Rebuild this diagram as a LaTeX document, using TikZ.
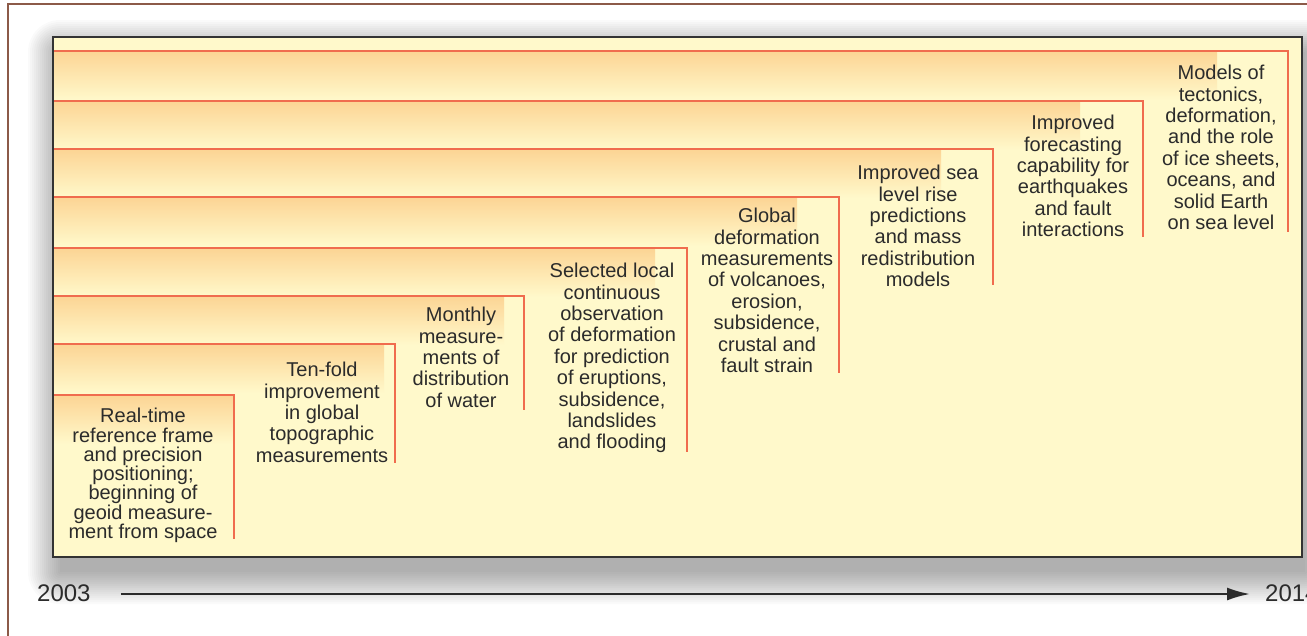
\documentclass[tikz,border=0pt]{standalone}
\usepackage{fontspec}
\setmainfont{Liberation Sans}
\usetikzlibrary{arrows.meta}
\definecolor{frame}{HTML}{8C5A48}
\definecolor{paper}{HTML}{FFF9CB}
\definecolor{band}{HTML}{FCD494}
\definecolor{redline}{HTML}{F06C4E}
\definecolor{ink}{HTML}{2B2B2B}
\begin{document}
\begin{tikzpicture}[x=1pt,y=-1pt,
  label/.style={font=\fontsize{20}{21.4}\selectfont, align=center,
    inner sep=0pt, anchor=north, text=ink},
  year/.style={font=\fontsize{24}{28}\selectfont, inner sep=0pt, text=ink},
  stepline/.style={draw=redline, line width=2pt},
  riser/.style={draw=redline, line width=1.5pt}]
\useasboundingbox (0,0) rectangle (1307,635);
\clip (0,0) rectangle (1307,635);
\fill[white] (0,0) rectangle (1307,635);

% outer frame (left and top edges)
\draw[frame, line width=2.5pt] (8,640) -- (8,4) -- (1320,4);

% soft drop shadow: stacked translucent layers
\foreach \r in {32,30,...,0}
  \fill[black, opacity=0.02, rounded corners=\r pt]
    (60-\r,52-\r) rectangle (1305+\r,572+\r);

% panel
\fill[paper] (53,37) rectangle (1302,557);

% shaded bands under each step
\foreach \y/\xg in {51/1217, 101/1080, 149/941, 197/797, 248/655, 296/504, 344/384, 395/234}
  \shade[top color=band, bottom color=paper] (53,\y) rectangle (\xg,\y+49);

% steps: horizontal line and riser
\foreach \y/\xr/\yb in {51/1288/232, 101/1143/237, 149/993/285, 197/839/373,
                        248/687/452, 296/524/410, 344/395/463, 395/234/539} {
  \draw[stepline] (53,\y) -- (\xr+0.75,\y);
  \draw[riser] (\xr,\y) -- (\xr,\yb);
}

\draw[black!80, line width=1.3pt] (53,37) rectangle (1302,557);

% milestone texts
\node[label, font=\fontsize{20}{19.3}\selectfont] (rt) at (143,408)
  {Real-time\\reference frame\\and precision\\positioning;\\beginning of\\geoid measure-\\ment from space};
\node[label] (tf) at (322,362)
  {Ten-fold\\improvement\\in global\\topographic\\measurements};
\node[label] (mo) at (461,307)
  {Monthly\\measure-\\ments of\\distribution\\of water};
\node[label] (sl) at (612,263)
  {Selected local\\continuous\\observation\\of deformation\\for prediction\\of eruptions,\\subsidence,\\landslides\\and flooding};
\node[label] (gd) at (767,208)
  {Global\\deformation\\measurements\\of volcanoes,\\erosion,\\subsidence,\\crustal and\\fault strain};
\node[label] (sea) at (918,165)
  {Improved sea\\level rise\\predictions\\and mass\\redistribution\\models};
\node[label] (fc) at (1073,115)
  {Improved\\forecasting\\capability for\\earthquakes\\and fault\\interactions};
\node[label] (md) at (1221,65)
  {Models of\\tectonics,\\deformation,\\and the role\\of ice sheets,\\oceans, and\\solid Earth\\on sea level};

% time axis
\node[year, anchor=base west] (y03) at (37,601) {2003};
\node[year, anchor=base west] (y14) at (1265,601) {2014};
\draw[ink, line width=2.2pt, -{Latex[length=23pt,width=13pt]}]
  ([xshift=30pt]y03.east |- 0,594) -- ([xshift=-15pt]y14.west |- 0,594);
\end{tikzpicture}
\end{document}
